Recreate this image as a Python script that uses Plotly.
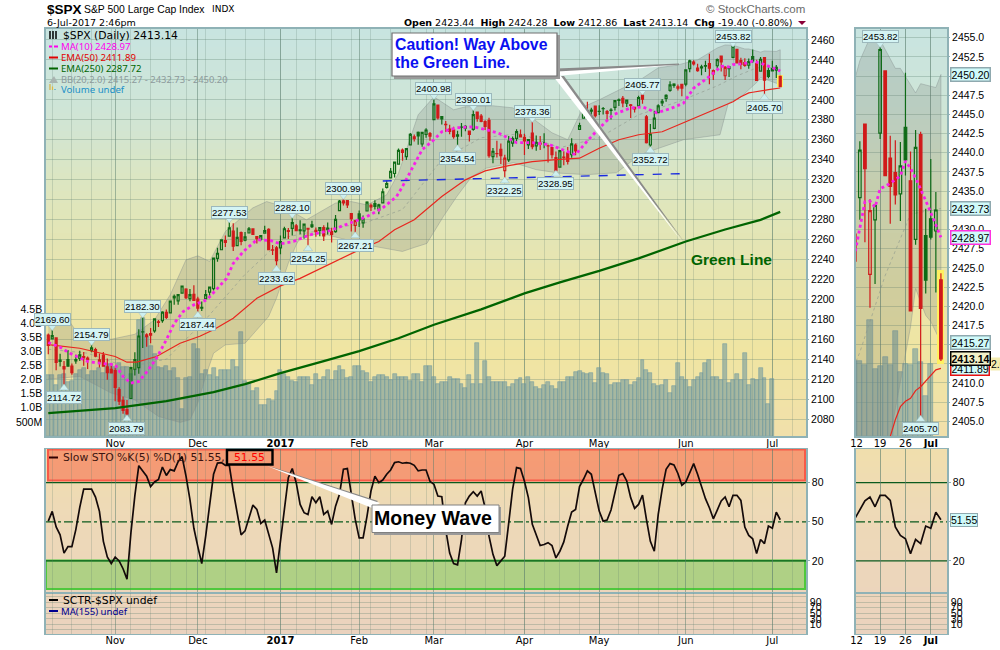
import plotly.graph_objects as go

# ---- price data, one value per trading day, 7 Oct 2016 .. 6 Jul 2017 ----
opens = [2164.19,2160.39,2161.35,2137.67,2130.26,2139.68,2132.95,2138.31,2140.81,2142.51,2139.43,2148.50,2149.72,2136.97,2144.06,2132.23,2129.78,
 2128.68,2109.43,2098.80,2089.41,2100.59,2129.92,2131.56,2167.49,2162.71,2165.64,2168.29,2177.53,2178.61,2186.85,2186.43,2201.56,2198.55,2206.27,2210.21,2200.76,2204.97,
 2200.17,2191.12,2200.65,2207.26,2210.72,2241.13,2249.73,2258.83,2263.32,2268.35,2253.77,2266.81,2259.24,2266.50,2270.54,2262.93,2260.25,2266.23,2270.23,2249.50,2251.61,
 2251.57,2261.60,2268.18,2271.14,2273.59,2269.72,2268.60,2271.14,2272.74,2269.14,2269.14,2271.90,2269.96,2267.78,2267.88,2288.88,2298.63,2299.02,2286.01,2274.02,
 2285.59,2276.69,2288.54,2294.28,2295.87,2289.55,2296.70,2312.27,2321.72,2326.12,2335.58,2349.64,2343.01,2354.91,2361.11,2367.50,2355.73,2365.23,2366.08,
 2380.13,2394.75,2380.92,2375.23,2370.74,2369.81,2363.49,2372.52,2371.56,2368.55,2370.34,2387.71,2383.71,2378.24,2379.32,2343.00,2345.97,2350.42,2329.11,2339.79,2356.54,2361.31,2364.82,
 2362.34,2354.76,2366.59,2353.79,2356.59,2357.16,2353.92,2352.15,2341.98,2332.62,2342.53,2346.79,2344.95,2354.74,2370.33,2381.51,2388.98,2389.70,2393.68,
 2388.50,2391.05,2386.50,2389.79,2392.37,2399.94,2401.58,2396.79,2394.84,2392.44,2393.98,2404.55,2382.95,2354.69,2371.37,2387.21,2397.04,2401.41,2409.54,2414.50,2411.67,2415.63,
 2415.65,2431.28,2437.83,2431.92,2432.03,2434.27,2436.39,2425.88,2434.15,2443.75,2424.14,2431.24,2442.55,2450.66,2439.31,2437.40,2434.65,2443.32,2436.34,2428.70,2442.38,2429.20,
 2431.39,2429.80,2423.44]
highs = [2165.86,2169.60,2161.56,2145.36,2138.19,2149.19,2135.70,2144.38,2148.44,2147.18,2142.63,2154.79,2151.44,2145.73,2147.13,2140.72,2133.25,
 2131.45,2111.76,2102.56,2099.07,2132.00,2146.87,2170.10,2182.30,2165.92,2171.36,2180.84,2179.22,2188.06,2189.89,2198.70,2204.80,2204.72,2213.35,2211.14,2210.46,2214.10,
 2202.60,2197.95,2209.42,2212.78,2241.63,2251.69,2259.80,2264.03,2277.53,2276.20,2272.12,2268.05,2267.47,2272.56,2271.23,2263.18,2263.36,2273.82,2271.31,2254.51,2253.58,
 2263.88,2272.82,2271.50,2282.10,2275.49,2279.27,2275.32,2271.78,2278.68,2272.08,2272.01,2274.33,2276.96,2271.78,2284.63,2299.55,2300.99,2299.02,2286.01,2279.09,
 2289.14,2283.97,2298.31,2296.18,2299.40,2295.91,2311.08,2319.23,2331.58,2337.58,2351.30,2351.31,2351.16,2366.71,2365.13,2368.26,2367.34,2371.54,2367.79,
 2400.98,2394.75,2383.89,2378.80,2375.12,2373.09,2369.08,2376.86,2374.42,2368.55,2390.01,2388.10,2385.71,2379.55,2381.93,2351.81,2358.92,2356.22,2344.90,2363.78,2363.36,2370.42,2370.35,
 2365.87,2360.53,2378.36,2364.16,2363.76,2366.37,2355.22,2352.72,2348.26,2349.14,2348.35,2352.63,2361.38,2356.18,2376.98,2392.48,2398.16,2392.10,2393.68,
 2394.49,2392.93,2389.82,2391.43,2399.29,2401.36,2403.87,2399.74,2395.72,2392.44,2404.05,2405.77,2384.87,2375.74,2389.06,2395.46,2400.85,2405.58,2418.71,2416.68,2415.26,2415.99,
 2430.06,2440.23,2439.55,2436.21,2435.28,2439.27,2446.20,2430.38,2441.49,2443.75,2433.95,2433.15,2453.82,2450.66,2442.23,2441.62,2441.40,2450.42,2440.15,2442.97,2442.73,2432.71,
 2439.17,2434.90,2424.28]
lows = [2144.85,2160.39,2128.84,2132.77,2114.72,2132.98,2124.43,2135.49,2138.15,2133.44,2130.09,2146.91,2141.93,2131.59,2132.52,2119.36,2125.53,
 2097.85,2094.00,2085.23,2083.79,2100.59,2123.56,2125.35,2151.17,2152.49,2156.08,2166.38,2172.20,2176.65,2180.38,2186.43,2194.51,2194.51,2206.27,2200.36,2198.15,2198.81,
 2187.44,2188.37,2199.97,2202.21,2208.93,2237.57,2249.23,2252.37,2263.32,2248.44,2253.77,2254.24,2258.21,2266.14,2265.15,2256.08,2258.84,2266.15,2249.11,2244.56,2233.62,
 2245.13,2261.60,2260.45,2264.06,2268.90,2265.27,2260.83,2254.25,2271.51,2262.81,2263.35,2258.41,2265.01,2257.02,2266.68,2288.88,2294.08,2291.62,2268.04,2267.21,
 2272.44,2271.65,2288.54,2288.57,2290.16,2285.38,2296.61,2311.10,2321.42,2322.17,2334.81,2338.87,2339.58,2354.91,2358.34,2355.09,2352.87,2361.87,2358.96,
 2380.13,2380.17,2375.39,2367.98,2365.51,2361.01,2354.54,2363.04,2368.52,2358.18,2368.94,2377.94,2377.64,2369.66,2341.90,2336.45,2342.13,2335.74,2322.25,2337.63,2352.94,2358.58,2362.60,
 2344.73,2350.72,2350.52,2348.90,2349.61,2351.50,2337.25,2341.18,2328.95,2332.51,2334.54,2335.05,2341.94,2344.51,2370.33,2381.15,2386.78,2382.68,2382.36,
 2384.83,2385.19,2379.75,2380.35,2389.38,2393.92,2392.44,2392.79,2381.74,2387.19,2393.94,2396.05,2356.21,2352.72,2370.43,2386.92,2393.88,2397.99,2408.01,2412.20,2409.43,2403.59,
 2413.54,2427.71,2434.32,2428.12,2424.75,2427.94,2415.70,2419.97,2431.28,2428.34,2419.80,2422.88,2441.79,2437.03,2430.74,2433.27,2431.11,2437.03,2419.38,2428.02,2405.70,2421.65,
 2428.69,2421.80,2412.86]
closes = [2153.74,2163.66,2136.73,2139.18,2132.55,2132.98,2126.50,2139.60,2144.29,2141.34,2141.16,2151.33,2143.16,2139.43,2133.04,2126.41,2126.15,
 2111.72,2097.94,2088.66,2085.18,2131.52,2139.56,2163.26,2167.48,2164.45,2164.20,2180.39,2176.94,2187.12,2181.90,2198.18,2202.94,2204.72,2213.35,2201.72,2204.66,2198.81,
 2191.08,2191.95,2204.71,2212.23,2241.35,2246.19,2259.53,2256.96,2271.72,2253.28,2262.03,2258.07,2262.53,2270.76,2265.18,2260.96,2263.79,2268.88,2249.92,2249.26,2238.83,
 2257.83,2270.75,2269.00,2276.98,2268.90,2268.90,2275.32,2270.44,2274.64,2267.89,2271.89,2263.69,2271.31,2265.20,2280.07,2298.37,2296.68,2294.69,2280.90,2278.87,
 2279.55,2280.85,2297.42,2292.56,2293.08,2294.67,2307.87,2316.10,2328.25,2337.58,2349.25,2347.22,2351.16,2365.38,2362.82,2363.81,2367.34,2369.75,2363.64,
 2395.96,2381.92,2383.12,2375.31,2368.39,2362.98,2364.87,2372.60,2373.47,2365.45,2385.26,2381.38,2378.25,2373.47,2344.02,2348.45,2345.96,2343.98,2341.59,2358.57,2361.13,2368.06,2362.72,
 2358.84,2360.16,2352.95,2357.49,2355.54,2357.16,2353.78,2344.93,2328.95,2349.01,2342.19,2338.17,2355.84,2348.69,2374.15,2388.61,2387.45,2388.77,2384.20,
 2388.33,2391.17,2388.13,2389.52,2399.29,2399.38,2396.92,2399.63,2394.44,2390.90,2402.32,2400.67,2357.03,2365.72,2381.73,2394.02,2398.42,2404.39,2415.07,2415.82,2412.91,2411.80,
 2430.06,2439.07,2436.10,2429.33,2433.14,2433.79,2431.77,2429.39,2440.35,2437.92,2432.46,2433.15,2453.46,2437.03,2435.61,2434.50,2438.30,2439.07,2419.38,2440.69,2419.70,2423.41,
 2429.01,2432.54,2413.14]
volumes = [2.15,2.15,1.8,2.15,2.2,1.9,1.95,2.2,2.35,2.4,2.15,2.3,2.3,2.4,2.25,2.55,2.55,
 2.45,2.6,2.45,2.45,2.2,2.35,4.1,4.2,3.5,3.2,2.9,2.45,2.4,2.5,2.3,2.4,2.05,0.95,2.05,2.1,3.25,
 3.1,2.2,2.35,2.15,2.4,2.1,2.35,2.35,2.35,2.7,2.45,3.7,1.95,1.85,1.6,1.7,1.1,1.1,1.3,1.25,1.6,
 2.35,2.2,2.1,1.95,1.9,2.1,2.1,2.1,1.8,2.2,2.0,2.1,2.35,2.0,2.3,2.5,2.35,2.05,2.1,2.5,
 2.5,2.3,2.25,1.9,2.1,2.15,2.15,2.1,2.0,2.2,2.08,2.1,2.1,1.95,2.2,2.2,1.9,2.5,
 2.5,2.1,1.85,1.9,1.9,2.08,2.03,2.03,1.85,1.7,2.15,1.85,3.3,1.85,2.65,2.1,1.9,1.9,1.9,1.9,1.75,1.85,1.97,
 2.05,1.85,2.08,1.9,1.75,1.65,1.8,1.9,1.77,1.65,1.9,1.93,2.08,2.08,2.27,2.3,2.25,2.2,2.25,
 1.87,2.4,2.25,2.2,1.8,1.87,1.87,1.97,2.0,1.8,1.9,2.05,2.7,2.33,2.23,1.85,1.77,1.8,2.0,1.53,1.77,2.6,
 2.1,2.0,1.73,1.97,2.1,2.23,2.6,2.7,2.1,2.1,2.0,3.25,1.87,1.97,2.2,2.0,2.93,1.8,2.03,2.0,2.43,2.07,
 1.13,2.03,None]
stoch = [50.5,58,46,40,26,31,31,44,61,75,75,75,69,58,35,23,18,
 23,20,14,6,41.5,70,93,89,85,77,80.5,82.5,92,85.5,90,89,96,100,85,67,45,
 31,18,39,64.6,86.4,95,95.4,93.3,93.3,73.6,58,40,43,53,62.8,59.5,48.7,51.3,40,30,10.8,
 36.4,62,83.8,90.8,80,63.3,57,55.6,69.2,64.6,69.2,55.6,58.2,48,62,71,90.3,90.8,71,51.8,
 37.7,37.7,54.4,73.6,85,80,82,86.4,89.7,95.4,96,94.9,95.4,94.9,93.3,89,89.7,89.7,81,
 78.7,69.7,69.2,44,26,18,17,36.4,64.6,69.7,73,69.7,73.6,60.8,39,25,16.4,20,23.6,49,75,91.5,90.8,
 81,68.5,48,40,31.8,32.6,34,31.8,22.3,27.4,34.6,46.7,57.4,59.5,77,82.6,89,86.4,71,
 58.2,50.5,51.3,59,73.6,85.6,87,81.3,68.5,60.3,63.3,70.5,51.8,35,27.4,55.6,75,90.3,94.6,93.6,87,78,
 80.5,87.7,94.6,86.4,77.4,67.7,60.8,52.3,59,66,69,61.5,70.3,70.3,66.4,46,39.5,37,25.6,36.4,33.3,46.7,
 45,57.4,51.55]

# ---- indicator lines, read at their visible turning points ----
ema250_day = [0,17,30,42,50,59,70,79,89,98,110,121,130,140,150,162,172,181,186]
ema250_val = [2086,2091,2098,2107,2115,2126,2138,2148,2161,2174.5,2190,2206,2217,2228.5,2241,2258,2270,2279.7,2287.72]
ema50_day = [0,8,17,20,22.5,27.5,33.5,38.5,42,47,53,59,64,69,74,79,84,88,93,100,106,111,117,123,129,135,140,145,150,156,162,168,174,176,177,178,179,180,181,182,183,184,185,186]
ema50_val = [2154.5,2151,2142.7,2137,2137,2142.7,2156,2163,2169.5,2181,2201,2213.5,2221,2230.6,2239.6,2249.6,2258,2269.7,2279.7,2303,2319.8,2328.8,2334,2338,2340,2341.5,2351.5,2360,2365,2368,2378,2388,2398,2403,2405.2,2406.9,2407.6,2408,2409,2409.5,2410.2,2411,2411.7,2411.89]
ma10_day = [0,3,5.5,10,13,17,19,21,23,25.4,27.5,30,32,34.3,37,40.3,43,45.3,47,49.6,53,56.4,59,62.3,66.5,71.6,76.7,81,85,88.5,90,92,95,98,100,103.8,108,111.4,114.8,119,123,127.4,131.7,134,136.8,140,143.5,147.8,151,154.6,158,161.4,164,168,171,172,173,174,176,178,179,180,181.5,183.5,186]
ma10_val = [2156.8,2152,2146,2137.7,2136,2134.4,2122.7,2116,2117.7,2129,2141,2159.4,2176,2187.8,2194.5,2199.5,2211,2221,2236,2248,2259.7,2259,2255.6,2258,2264.7,2269,2276.4,2283,2291.7,2303,2313,2328,2350,2360,2368,2372,2373,2370,2366,2357,2357,2355,2348,2345,2358,2371.6,2385,2391.6,2393,2387,2391,2396.6,2411.7,2423.4,2433.6,2433.7,2432.9,2435.3,2436,2437,2438.9,2438,2436,2433,2428.97]
bb_up_day = [0,5,8,16,22,27,31,35,38,41,45,52,55.5,59.7,65.6,73,77,81,86,89,94,98,103,106,113,118,123,128,132,136,140,145,151,155,160,165,170,172,174,177,178,181,182,185,186]
bb_up_val = [2180,2180,2163,2160,2165,2179.5,2204.6,2239.6,2243.6,2238,2268,2291.7,2298,2293,2279.7,2296.5,2298,2294.7,2304.8,2326.5,2385,2403,2390,2393,2394,2392,2381.6,2367,2360,2393,2400,2410,2421.6,2432,2435,2440,2452,2455,2454.7,2451,2451,2447.8,2449,2448.5,2450.2]
bb_lo_day = [0,8,16,22,28,33.5,36,38,40,42,45,50,53,56,58,61,63,64,69,76,82,90,93,96.2,100.4,103.8,107.6,111.4,118.2,124,130,136.8,144.4,150.4,156.4,161.4,170.7,172.8,176,180,181,183,184,186]
bb_lo_val = [2120,2122.7,2106,2099,2082.6,2076.6,2079.3,2096,2122.7,2146,2154.4,2156,2169.5,2182.8,2201.3,2236.3,2254.6,2261.7,2266.4,2259.7,2253.7,2248,2252,2256,2283,2303,2323,2331.6,2337,2330,2326.5,2325,2326.9,2345,2353,2360,2365,2396.6,2403,2417.3,2422.3,2418.8,2418,2415.27]
bb_mid_day = [0,10,20,30,40,50,60,70,80,90,100,110,120,130,140,150,160,170,175,180,186]
bb_mid_val = [2150,2146,2132,2140,2180,2225,2262,2270,2276,2290,2340,2362,2366,2352,2362,2385,2398,2414,2424,2432,2432.73]
trend_day = [85,161]
trend_val = [2318.6,2326]

# ---- axis ticks ----
month_ticks = [17,38,59,79,98,121,140,162,184]
month_text = ["Nov","Dec","<b>2017</b>","Feb","Mar","Apr","May","Jun","Jul"]
week_ticks = [1,6,11,16,21,26,31,35,40,45,50,55,59,63,68,72,77,82,87,92,96,101,106,111,116,121,126,130,135,140,145,150,155,160,164,169,174,179,184,189]
zoom_ticks = [169.35,174,179,184]
zoom_text = ["12","19","26","<b>Jul</b>"]
volume_ticks = [0.5,1,1.5,2,2.5,3,3.5,4,4.5]
volume_text = ["500M","1.0B","1.5B","2.0B","2.5B","3.0B","3.5B","4.0B","4.5B"]
sctr_ticks = [90,70,50,30,10]
sctr_extra = [110,-10]
swing_highs = [1,11,24,46,62,75,98,108,123,151,174]
swing_lows = [4,20,38,58,66,78,104,116,129,153,182]

n = len(closes)
days = list(range(n))
GREEN, RED = "#0E6A16", "#D01A1A"
is_up = [i > 0 and closes[i] >= closes[i-1] for i in days]

def px(v): return v / 1000
def py(v): return 1 - v / 650

shapes, notes = [], []

# vertical colour wash behind the panels
stops = [(29,(200,228,224)),(110,(207,229,214)),(190,(222,230,190)),(270,(232,229,174)),(350,(240,229,162)),
         (430,(241,224,170)),(500,(238,218,182)),(590,(236,213,188)),(634,(234,210,190))]
def wash(y):
    for (a,ca),(b,cb) in zip(stops, stops[1:]):
        if a <= y <= b:
            t = (y-a)/(b-a)
            return "rgb(%d,%d,%d)" % tuple(round(ca[k]+(cb[k]-ca[k])*t) for k in range(3))
    return "rgb(234,210,190)"
for x0,x1 in [(46,806),(856,947)]:
    for y0,y1 in [(29,436),(449,634)]:
        y = y0
        while y < y1:
            shapes.append(dict(type="rect",xref="paper",yref="paper",x0=px(x0),x1=px(x1),y0=py(y),y1=py(y1),
                               fillcolor=wash(y),line_width=0,layer="below"))
            y += 6

def rect(x0,y0,x1,y1,fill,line=None,w=0,layer="above"):
    shapes.append(dict(type="rect",xref="paper",yref="paper",x0=px(x0),x1=px(x1),y0=py(y0),y1=py(y1),
                       fillcolor=fill,line=dict(color=line or "rgba(0,0,0,0)",width=w),layer=layer))
def poly(pts,fill,layer="above"):
    path = "M " + " L ".join("%.5f %.5f" % (px(a),py(b)) for a,b in pts) + " Z"
    shapes.append(dict(type="path",xref="paper",yref="paper",path=path,fillcolor=fill,line_width=0,layer=layer))
def seg(x0,y0,x1,y1,color,w=2,dash="solid"):
    shapes.append(dict(type="line",xref="paper",yref="paper",x0=px(x0),x1=px(x1),y0=py(y0),y1=py(y1),
                       line=dict(color=color,width=w,dash=dash),layer="above"))
def text(x,y,s,color="#000",size=10,fam="DejaVu Sans",anchor="left",bg=None):
    notes.append(dict(xref="paper",yref="paper",x=px(x),y=py(y),text=s,showarrow=False,xanchor=anchor,yanchor="middle",
                      font=dict(color=color,size=size,family=fam),borderpad=0,bgcolor=bg))

# zones in the oscillator panel
rect(48,449.5,805,480.5,"rgba(250,90,60,0.50)","#F85A48",2,"below")
rect(46,560.5,805,589,"rgba(90,200,60,0.42)","#4FC83C",2,"below")

# wedges and call-out boxes
poly([(557,68.5),(679,63.5),(679,65),(557,74)],"#8A8A8A")
poly([(557,71.5),(679,64.8),(557,76)],"#FFFFFF")
poly([(556,76),(564,76),(685,243)],"#8A8A8A")
poly([(553,76),(561,76),(683,243)],"#FFFFFF")
rect(394,35,560,79,"#9A9A9A")
rect(392,33,557,76,"#FFFFFF","#707070",1.2)
poly([(266,465),(378,501),(374,505)],"#8A8A8A")
poly([(267,466),(380,503),(372,508)],"#FFFFFF")
rect(374,507,501,535,"#9A9A9A")
rect(372,505,499,532.5,"#FFFFFF","#808080",1)
rect(227,450,272.5,464.5,"rgba(0,0,0,0)","#000000",2.4)

# legend samples
seg(49,46.5,52,46.5,"#FF00EE",2); seg(54,46.5,58,46.5,"#FF00EE",2)
seg(49,57.5,58,57.5,"#E00000",2)
seg(49,68.5,58,68.5,"#006400",2)
poly([(49,83),(54,76),(58,83)],"#A8B4B0")
for i,c in zip([50,52.5,55],["#D8B040","#E0B840","#40A0C8"]):
    seg(i,90,i,84+(i-50),c,1.2)
for i in [50,53,56]:
    seg(i,31,i,39,"#000",1.5)
seg(49,457.5,58,457.5,"#300000",2)
seg(49,600,58,600,"#000",2)
seg(49,611,58,611,"#000090",2)

# header texts
text(46,9.5,"<b>$SPX</b>",size=13.5,fam="Liberation Sans")
text(83,9.5,"S&P 500 Large Cap Index",size=10.4,fam="Liberation Sans")
text(211,9.5,"INDX",size=9,fam="DejaVu Sans")
text(46,22.5,"6-Jul-2017 2:46pm",size=9.5)
text(794,22.5,"<b>Open</b> 2423.44  <b>High</b> 2424.28  <b>Low</b> 2412.86  <b>Last</b> 2413.14  <b>Chg</b> -19.40 (-0.80%)",size=9.5,anchor="right")
poly([(798,21),(806,21),(802,25)],"#8B0038")
text(806,9.5,"© StockCharts.com",color="#6A6A6A",size=11.5,fam="Liberation Sans",anchor="right")

# legend texts
NOTO = "Noto Sans"
text(61.5,35,"$SPX (Daily) 2413.14",size=10.8)
text(59.5,46.5,"MA(10) 2428.97",color="#FF00EE",size=9.6,fam=NOTO)
text(59.5,57.5,"EMA(50) 2411.89",color="#E00000",size=9.6,fam=NOTO)
text(59.5,68.5,"EMA(250) 2287.72",color="#006400",size=9.6,fam=NOTO)
text(59.5,79.5,"BB(20,2.0) 2415.27 - 2432.73 - 2450.20",color="#8C9A9C",size=9.4,fam=NOTO)
text(59.5,89.5,"Volume undef",color="#2090C8",size=9.6,fam=NOTO)
text(61.5,457.5,"Slow STO %K(5) %D(1) 51.55,",color="#3A1410",size=10.8)
text(249.5,457.5,"51.55",color="#FF0000",size=10.8,anchor="center")
text(61.5,600.5,"SCTR-$SPX undef",size=10.8)
text(59.5,611.5,"MA(155) undef",color="#000090",size=9.6,fam=NOTO)

# call-out texts
text(394,44,"<b>Caution! Way Above</b>",color="#0A10F0",size=15.8,fam="Liberation Sans")
text(394,63,"<b>the Green Line.</b>",color="#0A10F0",size=15.8,fam="Liberation Sans")
text(731,259,"<b>Green Line</b>",color="#006400",size=15.5,fam="Liberation Sans",anchor="center")
text(433,518,"<b>Money Wave</b>",size=19.6,fam="Liberation Sans",anchor="center")

# swing labels
LABEL = dict(showarrow=False,bgcolor="#D4F4F4",bordercolor="#9CB8BC",borderwidth=1,borderpad=0,
             font=dict(size=9.6,color="#000",family="Liberation Sans"))
def swing(i,xref,yref,hi):
    v = highs[i] if hi else lows[i]
    notes.append(dict(xref=xref,yref=yref,x=i,y=v,text=("%.2f" % v),yshift=(10 if hi else -13),**LABEL))
for i in swing_highs: swing(i,"x","y2",True)
for i in swing_lows: swing(i,"x","y2",False)
swing(174,"x2","y4",True); swing(182,"x2","y4",False)

# value tags at the right edge of the zoom panel
def tag(v,s,border="#8FA9AF",yref="y4",bold=False,w=1.5):
    notes.append(dict(xref="paper",yref=yref,x=px(950),y=v,text=("<b>%s</b>" % s) if bold else s,xanchor="left",showarrow=False,
                      bgcolor="#CFFAFA" if not bold else "#F3F0C8",bordercolor=border,borderwidth=w,borderpad=0,
                      font=dict(size=10.5,color="#000",family="Liberation Sans")))
text(990,364,"2.05B",size=10.5,fam="Liberation Sans",bg="#F3EBB0")
tag(2450.20,"2450.20"); tag(2432.73,"2432.73"); tag(2428.97,"2428.97","#FF30E0")
tag(2415.27,"2415.27"); tag(2411.89,"2411.89","#E81010"); tag(2413.14,"2413.14","#000000",bold=True)
tag(51.55,"51.55",yref="y6",w=1)

fig = go.Figure()
BAR = dict(marker=dict(color="rgba(108,150,155,0.56)",line=dict(color="rgba(105,150,160,0.85)",width=0.6)),width=1,hoverinfo="skip",showlegend=False)
LINE = dict(mode="lines",hoverinfo="skip",showlegend=False)

def candles(xa,ya):
    for col,flag in ((GREEN,True),(RED,False)):
        sel = [i for i in days if is_up[i] == flag]
        fig.add_trace(go.Candlestick(x=sel,open=[opens[i] for i in sel],high=[highs[i] for i in sel],
            low=[lows[i] for i in sel],close=[closes[i] for i in sel],xaxis=xa,yaxis=ya,showlegend=False,hoverinfo="skip",
            whiskerwidth=0,
            increasing=dict(line=dict(color=col,width=1.2),fillcolor="rgba(0,0,0,0)"),
            decreasing=dict(line=dict(color=col,width=1.2),fillcolor=col)))

def price_panel(xa,yv,yband,ytop,halo):
    fig.add_trace(go.Bar(x=days,y=volumes,xaxis=xa,yaxis=yv,**BAR))
    fig.add_trace(go.Scatter(x=bb_up_day+bb_lo_day[::-1],y=bb_up_val+bb_lo_val[::-1],fill="toself",xaxis=xa,yaxis=yband,
                             fillcolor="rgba(105,110,105,0.20)",line=dict(color="rgba(130,140,140,0.5)",width=0.8),**LINE))
    fig.add_trace(go.Scatter(x=bb_mid_day,y=bb_mid_val,xaxis=xa,yaxis=yband,line=dict(color="rgba(140,150,140,0.6)",width=1,dash="dot"),**LINE))
    fig.add_trace(go.Bar(x=[days[-1]],y=[highs[-1]-lows[-1]+0.8],base=[lows[-1]-0.4],width=[halo],xaxis=xa,yaxis=ytop,
                         marker=dict(color="#FFF060",line_width=0),hoverinfo="skip",showlegend=False))
    fig.add_trace(go.Scatter(x=ema250_day,y=ema250_val,xaxis=xa,yaxis=ytop,line=dict(color="#006400",width=2.3),**LINE))
    candles(xa,ytop)
    fig.add_trace(go.Scatter(x=ema50_day,y=ema50_val,xaxis=xa,yaxis=ytop,line=dict(color="#E8261E",width=1.2),**LINE))
    fig.add_trace(go.Scatter(x=ma10_day,y=ma10_val,xaxis=xa,yaxis=ytop,line=dict(color="#F820E8",width=2.8,dash="dot"),**LINE))

price_panel("x","y","y2","y9",1.5)
fig.add_trace(go.Scatter(x=trend_day,y=trend_val,xaxis="x",yaxis="y9",line=dict(color="#1A2AE0",width=1.4,dash="dash"),**LINE))
price_panel("x2","y3","y4","y10",1.4)

# little pointers under and over the swing labels
TRI = "#CDEFEF"
PT = dict(mode="markers",hoverinfo="skip",showlegend=False)
fig.add_trace(go.Scatter(x=swing_highs,y=[highs[i]+3 for i in swing_highs],xaxis="x",yaxis="y9",
                         marker=dict(symbol="triangle-down",size=8,color=TRI,line=dict(color="#9CB8BC",width=0.5)),**PT))
fig.add_trace(go.Scatter(x=swing_lows,y=[lows[i]-3.5 for i in swing_lows],xaxis="x",yaxis="y9",
                         marker=dict(symbol="triangle-up",size=8,color=TRI,line=dict(color="#9CB8BC",width=0.5)),**PT))
fig.add_trace(go.Scatter(x=[174],y=[highs[174]+0.4],xaxis="x2",yaxis="y10",
                         marker=dict(symbol="triangle-down",size=8,color=TRI,line=dict(color="#9CB8BC",width=0.5)),**PT))
fig.add_trace(go.Scatter(x=[182],y=[lows[182]-0.45],xaxis="x2",yaxis="y10",
                         marker=dict(symbol="triangle-up",size=8,color=TRI,line=dict(color="#9CB8BC",width=0.5)),**PT))
tag_vals = [2450.20,2432.73,2428.97,2415.27,2413.14,2411.89]
fig.add_trace(go.Scatter(x=[187.45]*len(tag_vals),y=tag_vals,xaxis="x2",yaxis="y10",cliponaxis=False,
                         marker=dict(symbol="triangle-left",size=7,color=["#CFFAFA","#CFFAFA","#FF30E0","#CFFAFA","#000","#E81010"],line=dict(color="#8FA9AF",width=0.5)),**PT))
fig.add_trace(go.Scatter(x=[187.45],y=[51.55],xaxis="x4",yaxis="y6",cliponaxis=False,
                         marker=dict(symbol="triangle-left",size=7,color="#CFFAFA",line=dict(color="#8FA9AF",width=0.5)),**PT))

for xa,ya in (("x3","y5"),("x4","y6")):
    fig.add_trace(go.Scatter(x=days,y=stoch,xaxis=xa,yaxis=ya,line=dict(color="#140A0A",width=1.7),**LINE))
    dom = xa + " domain"
    for lvl,dash,w in ((80,"solid",1.3),(20,"solid",1.3),(50,"dashdot",1.2)):
        shapes.append(dict(type="line",xref=dom,yref=ya,x0=0,x1=1,y0=lvl,y1=lvl,layer="below",line=dict(color="#0B5A1E",width=w,dash=dash)))
for xa,ya in (("x5","y7"),("x6","y8")):
    fig.add_trace(go.Scatter(x=[None],y=[None],xaxis=xa,yaxis=ya,**LINE))

GRIDY = "rgba(90,125,110,0.30)"
GRIDM = "rgba(90,125,110,0.50)"
GRIDW = "rgba(90,125,110,0.22)"
EDGE = "#8FB2B6"
TICK = dict(size=10.5,color="#000",family="Liberation Sans")
XL = (-0.58,192.55)
XR = (169.24,187.2)
XD_L = [0.046,0.806]
XD_R = [0.856,0.947]
def xax(dom,rng,tv,tt,show,anchor,lw=1.5):
    return dict(domain=dom,range=list(rng),anchor=anchor,tickmode="array",tickvals=tv,ticktext=tt,showticklabels=show,
                showgrid=True,gridcolor=GRIDM,gridwidth=1.3,zeroline=False,showline=True,linecolor=EDGE,linewidth=lw,mirror=True,
                ticks="",ticklabelstandoff=-3,tickfont=dict(size=10,color="#000",family="DejaVu Sans"),rangeslider=dict(visible=False),fixedrange=True,
                minor=dict(tickmode="array",tickvals=week_ticks,showgrid=True,gridcolor=GRIDW,gridwidth=1,ticks=""))

D_MAIN = [py(436),py(29)]
D_STO = [py(593),py(449)]
D_SCT = [py(634),py(593)]
VOL_L = (0,14.44)
VOL_R = (0,11.4)
PRICE_L = [2063,2471]
PRICE_R = [2403.08,2456.13]
BORDER = dict(showline=True,linecolor=EDGE,linewidth=1.5,mirror=True)
fig.update_layout(
    width=1000,height=650,margin=dict(l=0,r=0,t=0,b=0,autoexpand=False),paper_bgcolor="#FFFFFF",plot_bgcolor="rgba(0,0,0,0)",
    showlegend=False,barmode="overlay",bargap=0,boxmode="overlay",boxgap=0.28,hovermode=False,
    shapes=shapes,annotations=notes,
    xaxis=xax(XD_L,XL,month_ticks,month_text,True,"y"),
    xaxis2=xax(XD_R,XR,zoom_ticks,zoom_text,True,"y3"),
    xaxis3=xax(XD_L,XL,month_ticks,month_text,False,"y5",1),
    xaxis4=xax(XD_R,XR,zoom_ticks,zoom_text,False,"y6",1),
    xaxis5=xax(XD_L,XL,month_ticks,month_text,True,"y7",1),
    xaxis6=xax(XD_R,XR,zoom_ticks,zoom_text,True,"y8",1),
    yaxis=dict(domain=D_MAIN,range=list(VOL_L),anchor="x",side="left",tickmode="array",tickvals=volume_ticks,ticktext=volume_text,
               showgrid=False,zeroline=False,ticks="",tickfont=TICK,fixedrange=True,**BORDER),
    yaxis2=dict(overlaying="y",range=PRICE_L,anchor="x",side="right",tickmode="linear",tick0=2080,dtick=20,showgrid=True,gridcolor=GRIDY,gridwidth=1,
                zeroline=False,ticks="outside",ticklen=2,tickcolor=EDGE,tickfont=TICK,fixedrange=True),
    yaxis9=dict(overlaying="y",range=PRICE_L,anchor="x",side="right",showticklabels=False,showgrid=False,zeroline=False,ticks="",fixedrange=True),
    yaxis3=dict(domain=D_MAIN,range=list(VOL_R),anchor="x2",showticklabels=False,showgrid=False,zeroline=False,ticks="",fixedrange=True,**BORDER),
    yaxis4=dict(overlaying="y3",range=PRICE_R,anchor="x2",side="right",tickmode="linear",tick0=2405,dtick=2.5,tickformat=".1f",showgrid=True,gridcolor=GRIDY,gridwidth=1,
                zeroline=False,ticks="outside",ticklen=2,tickcolor=EDGE,tickfont=TICK,fixedrange=True),
    yaxis10=dict(overlaying="y3",range=PRICE_R,anchor="x2",side="right",showticklabels=False,showgrid=False,zeroline=False,ticks="",fixedrange=True),
    yaxis5=dict(domain=D_STO,range=[-4.6,105.8],anchor="x3",side="right",tickmode="array",tickvals=[20,50,80],showgrid=False,zeroline=False,
                ticks="outside",ticklen=2,tickcolor=EDGE,tickfont=TICK,fixedrange=True,**BORDER),
    yaxis6=dict(domain=D_STO,range=[-4.6,105.8],anchor="x4",side="right",tickmode="array",tickvals=[20,50,80],showgrid=False,zeroline=False,
                ticks="outside",ticklen=2,tickcolor=EDGE,tickfont=TICK,fixedrange=True,**BORDER),
    yaxis7=dict(domain=D_SCT,range=[-25,123.6],anchor="x5",side="right",tickmode="array",tickvals=sctr_ticks,showgrid=True,gridcolor=GRIDY,zeroline=False,
                ticks="",tickfont=TICK,fixedrange=True,minor=dict(tickmode="array",tickvals=sctr_extra,showgrid=True,gridcolor=GRIDY,ticks=""),**BORDER),
    yaxis8=dict(domain=D_SCT,range=[-25,123.6],anchor="x6",side="right",tickmode="array",tickvals=sctr_ticks,showgrid=True,gridcolor=GRIDY,zeroline=False,
                ticks="",tickfont=TICK,fixedrange=True,minor=dict(tickmode="array",tickvals=sctr_extra,showgrid=True,gridcolor=GRIDY,ticks=""),**BORDER),
)
fig.write_html("out.html",config={"displayModeBar":False},post_script="document.body.style.margin='0';document.body.style.overflow='hidden';")
